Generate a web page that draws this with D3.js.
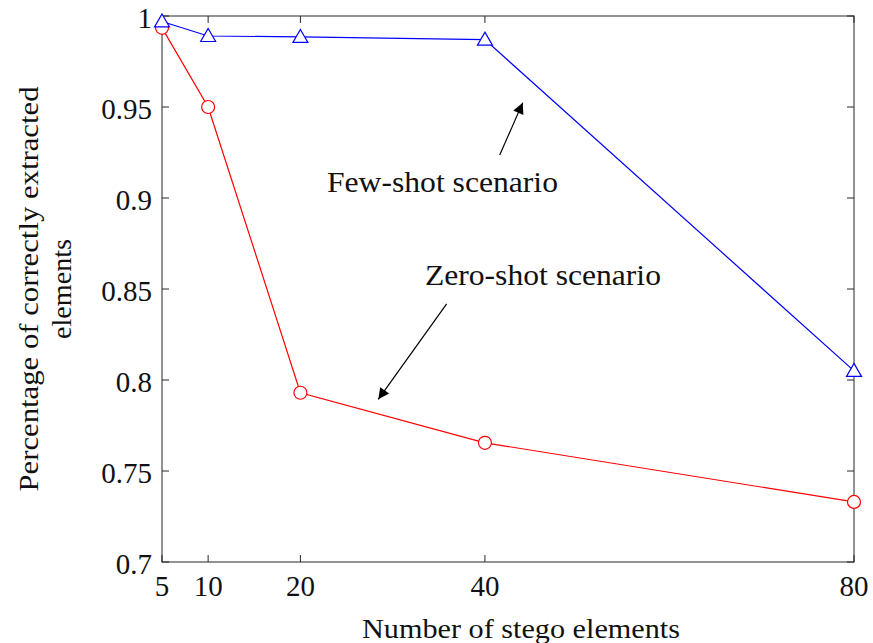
<!DOCTYPE html>
<html>
<head>
<meta charset="utf-8">
<script src="https://cdn.jsdelivr.net/npm/d3@7"></script>
<style>
  body { margin: 0; background: #fff; }
  text { font-family: "Liberation Serif", serif; fill: #111; }
</style>
</head>
<body>
<div id="chart"></div>
<script>
// data
var elements = [5, 10, 20, 40, 80];
var fewShot = [0.997, 0.989, 0.9885, 0.987, 0.805];
var zeroShot = [0.9935, 0.95, 0.793, 0.7655, 0.733];
var yTicks = [0.7, 0.75, 0.8, 0.85, 0.9, 0.95, 1];

var width = 873, height = 643;
var margin = {top: 16, right: 19, bottom: 81, left: 162};

var svg = d3.select("#chart").append("svg")
    .attr("width", width)
    .attr("height", height);

var x = d3.scaleLinear().domain([5, 80]).range([margin.left, width - margin.right]);
var y = d3.scaleLinear().domain([0.7, 1]).range([height - margin.bottom, margin.top]);

var axisColor = "#262626";

// box
svg.append("rect")
    .attr("x", x(5))
    .attr("y", y(1))
    .attr("width", x(80) - x(5))
    .attr("height", y(0.7) - y(1))
    .attr("fill", "none")
    .attr("stroke", axisColor)
    .attr("stroke-width", 1);

var tickLen = 7;

// x ticks (bottom + top, inward)
var xt = svg.append("g");
elements.forEach(function(v) {
  xt.append("line").attr("x1", x(v)).attr("x2", x(v))
    .attr("y1", y(0.7)).attr("y2", y(0.7) - tickLen)
    .attr("stroke", axisColor);
  xt.append("line").attr("x1", x(v)).attr("x2", x(v))
    .attr("y1", y(1)).attr("y2", y(1) + tickLen)
    .attr("stroke", axisColor);
  xt.append("text")
    .attr("x", x(v))
    .attr("y", y(0.7) + 34)
    .attr("text-anchor", "middle")
    .attr("font-size", "29px")
    .text(v);
});

// y ticks (left + right, inward)
var yt = svg.append("g");
yTicks.forEach(function(v) {
  yt.append("line").attr("x1", x(5)).attr("x2", x(5) + tickLen)
    .attr("y1", y(v)).attr("y2", y(v))
    .attr("stroke", axisColor);
  yt.append("line").attr("x1", x(80)).attr("x2", x(80) - tickLen)
    .attr("y1", y(v)).attr("y2", y(v))
    .attr("stroke", axisColor);
  yt.append("text")
    .attr("x", x(5) - 10)
    .attr("y", y(v) + 12)
    .attr("text-anchor", "end")
    .attr("font-size", "29px")
    .text(d3.format("")(v));
});

// axis labels
svg.append("text")
    .attr("x", 362)
    .attr("y", 638)
    .attr("font-size", "28px")
    .attr("textLength", 318)
    .attr("lengthAdjust", "spacingAndGlyphs")
    .text("Number of stego elements");

var yl = svg.append("text")
    .attr("transform", "translate(38," + (y(0.7) + y(1)) / 2 + ") rotate(-90)")
    .attr("text-anchor", "middle")
    .attr("font-size", "27px");
yl.append("tspan").attr("x", 0).attr("dy", 0)
    .attr("textLength", 405)
    .attr("lengthAdjust", "spacingAndGlyphs")
    .text("Percentage of correctly extracted");
yl.append("tspan").attr("x", 0).attr("dy", 33)
    .attr("font-size", "28px")
    .attr("textLength", 100)
    .attr("lengthAdjust", "spacingAndGlyphs")
    .text("elements");

// series
var line = d3.line()
    .x(function(d) { return x(d[0]); })
    .y(function(d) { return y(d[1]); });

var fewPts = elements.map(function(e, i) { return [e, fewShot[i]]; });
var zeroPts = elements.map(function(e, i) { return [e, zeroShot[i]]; });

svg.append("path")
    .datum(zeroPts)
    .attr("d", line)
    .attr("fill", "none")
    .attr("stroke", "#ff0000")
    .attr("stroke-width", 1.2);

svg.append("path")
    .datum(fewPts)
    .attr("d", line)
    .attr("fill", "none")
    .attr("stroke", "#0000ff")
    .attr("stroke-width", 1.2);

svg.selectAll(".circ")
    .data(zeroPts)
  .enter().append("circle")
    .attr("class", "circ")
    .attr("cx", function(d) { return x(d[0]); })
    .attr("cy", function(d) { return y(d[1]); })
    .attr("r", 6.5)
    .attr("fill", "#fff")
    .attr("stroke", "#ff0000")
    .attr("stroke-width", 1.2);

svg.selectAll(".tri")
    .data(fewPts)
  .enter().append("path")
    .attr("class", "tri")
    .attr("d", "M0,-7.5L7.5,5.5L-7.5,5.5Z")
    .attr("transform", function(d) { return "translate(" + x(d[0]) + "," + y(d[1]) + ")"; })
    .attr("fill", "#fff")
    .attr("stroke", "#0000ff")
    .attr("stroke-width", 1.2);

// annotations
svg.append("defs").append("marker")
    .attr("id", "head")
    .attr("viewBox", "0 0 10 10")
    .attr("refX", 10)
    .attr("refY", 5)
    .attr("markerUnits", "userSpaceOnUse")
    .attr("markerWidth", 14)
    .attr("markerHeight", 11)
    .attr("orient", "auto")
  .append("path")
    .attr("d", "M0,0L10,5L0,10Z")
    .attr("fill", "#000");

var arrows = [
  {from: [41.6, 0.9236], to: [44.1, 0.9524]},
  {from: [35.85, 0.8418], to: [28.44, 0.7894]}
];
arrows.forEach(function(a) {
  svg.append("line")
    .attr("x1", x(a.from[0])).attr("y1", y(a.from[1]))
    .attr("x2", x(a.to[0])).attr("y2", y(a.to[1]))
    .attr("stroke", "#000")
    .attr("stroke-width", 1.2)
    .attr("marker-end", "url(#head)");
});

var labels = [
  {text: "Few-shot scenario", at: [22.88, 0.9033], len: 231},
  {text: "Zero-shot scenario", at: [33.5, 0.8522], len: 236}
];
labels.forEach(function(l) {
  svg.append("text")
    .attr("x", x(l.at[0]))
    .attr("y", y(l.at[1]))
    .attr("font-size", "29px")
    .attr("textLength", l.len)
    .attr("lengthAdjust", "spacingAndGlyphs")
    .text(l.text);
});
</script>
</body>
</html>
